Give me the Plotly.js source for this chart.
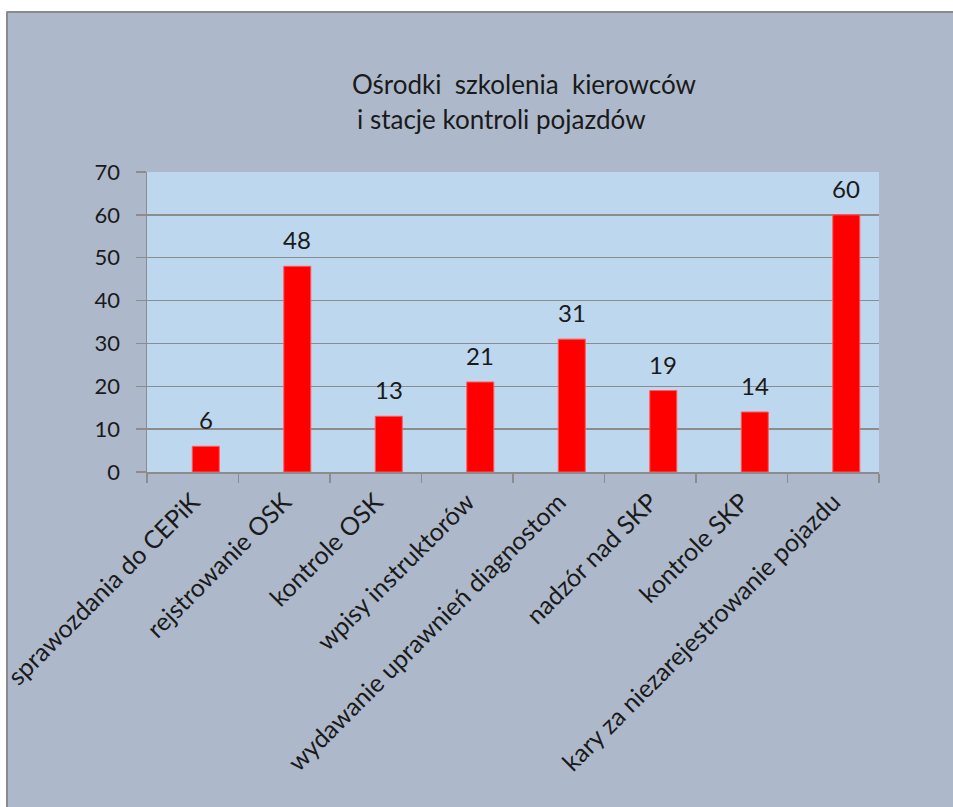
<!DOCTYPE html>
<html>
<head>
<meta charset="utf-8">
<script src="https://cdn.plot.ly/plotly-3.0.1.min.js"></script>
<style>html,body{margin:0;padding:0;background:#fff;}#chart{width:953px;height:807px;}</style>
</head>
<body>
<div id="chart"></div>
<script>
var categories = [
  "sprawozdania do CEPiK",
  "rejstrowanie OSK",
  "kontrole OSK",
  "wpisy instruktorów",
  "wydawanie uprawnień diagnostom",
  "nadzór nad SKP",
  "kontrole SKP",
  "kary za niezarejestrowanie pojazdu"
];
var values = [6, 48, 13, 21, 31, 19, 14, 60];
var titleLine1 = "Ośrodki&nbsp; szkolenia&nbsp; kierowców";
var titleLine2 = "i stacje kontroli pojazdów";

var FONT = "Lato, 'Open Sans', sans-serif";
var W = 953, H = 807;
var L = 147, R = 74, T = 172, B = 335;
var pw = W - L - R, ph = H - T - B;
function px(x){ return (x - L) / pw; }
function py(y){ return (H - B - y) / ph; }

var trace = {
  type: 'bar',
  x: categories,
  y: values,
  width: 0.295,
  offset: -0.005,
  marker: {color: '#ff0000', line: {color: '#ff5a5a', width: 1}},
  hoverinfo: 'x+y'
};

var annotations = categories.map(function(c, i){
  return {x: c, y: values[i], xref: 'x', yref: 'y', text: String(values[i]),
    showarrow: false, yanchor: 'bottom', yshift: 10, xshift: 13,
    font: {family: FONT, size: 24, color: '#1a1a1a'}};
});
annotations.push({xref: 'paper', yref: 'paper', x: px(350), y: py(84), xanchor: 'left', yanchor: 'middle',
  text: titleLine1, showarrow: false, font: {family: FONT, size: 26, color: '#1a1a1a'}});
annotations.push({xref: 'paper', yref: 'paper', x: px(355), y: py(119), xanchor: 'left', yanchor: 'middle',
  text: titleLine2, showarrow: false, font: {family: FONT, size: 26, color: '#1a1a1a'}});

var layout = {
  width: W, height: H,
  margin: {l: L, r: R, t: T, b: B, pad: 0},
  paper_bgcolor: '#adb9ca',
  plot_bgcolor: '#bdd7ee',
  showlegend: false,
  xaxis: {
    type: 'category',
    tickson: 'boundaries',
    ticks: 'outside', ticklen: 9, tickcolor: '#8c8c8c', tickwidth: 1.5,
    ticklabelstandoff: 4,
    showline: true, linecolor: '#8c8c8c', linewidth: 1.5,
    showgrid: false,
    tickangle: -45,
    tickfont: {family: FONT, size: 25, color: '#1a1a1a'},
    automargin: false
  },
  yaxis: {
    range: [0, 70], dtick: 10,
    ticks: 'outside', ticklen: 10, tickcolor: '#8c8c8c', tickwidth: 1.5,
    ticklabelstandoff: 11,
    showline: true, linecolor: '#8c8c8c', linewidth: 1.5,
    showgrid: true, gridcolor: '#8c8c8c', gridwidth: 1.5,
    zeroline: false,
    tickfont: {family: FONT, size: 22, color: '#1a1a1a'},
    automargin: false
  },
  annotations: annotations,
  shapes: [
    {type: 'rect', xref: 'paper', yref: 'paper', x0: px(-20), x1: px(980), y0: py(-20), y1: py(11), fillcolor: '#ffffff', line: {width: 0}, layer: 'above'},
    {type: 'rect', xref: 'paper', yref: 'paper', x0: px(-20), x1: px(6), y0: py(-20), y1: py(830), fillcolor: '#ffffff', line: {width: 0}, layer: 'above'},
    {type: 'line', xref: 'paper', yref: 'paper', x0: px(7), x1: px(980), y0: py(12), y1: py(12), line: {color: '#8a8a8a', width: 2}, layer: 'above'},
    {type: 'line', xref: 'paper', yref: 'paper', x0: px(7), x1: px(7), y0: py(12), y1: py(830), line: {color: '#8a8a8a', width: 2}, layer: 'above'}
  ]
};

Plotly.newPlot('chart', [trace], layout, {displayModeBar: false, staticPlot: true});
</script>
</body>
</html>
